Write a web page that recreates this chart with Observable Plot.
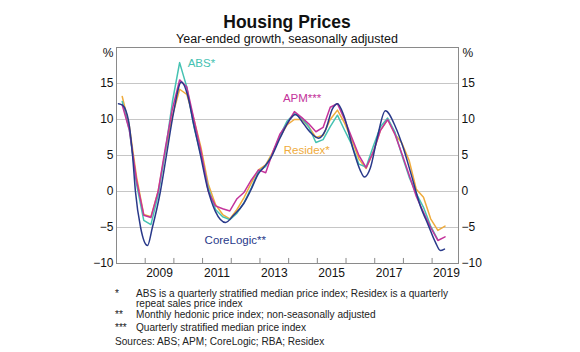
<!DOCTYPE html>
<html><head><meta charset="utf-8">
<script src="https://cdn.jsdelivr.net/npm/d3@7"></script>
<script src="https://cdn.jsdelivr.net/npm/@observablehq/plot@0.6"></script>
<style>
body{margin:0;background:#fff;font-family:Arial,"Liberation Sans",sans-serif;}
#wrap{position:relative;width:580px;height:352px;overflow:hidden;background:#fff;}
#chart{position:absolute;left:0;top:0;}
.t{position:absolute;white-space:nowrap;color:#111;}
.fn{font-size:10.1px;line-height:11px;color:#222;}
</style></head><body><div id="wrap"><div id="chart"></div>
<div class="t" style="left:0;width:574px;text-align:center;top:12px;font-size:17.5px;font-weight:bold;line-height:21px">Housing Prices</div>
<div class="t" style="left:0;width:574px;text-align:center;top:32px;font-size:12.5px;line-height:15px">Year-ended growth, seasonally adjusted</div>
<div class="t fn" style="left:115px;top:287.5px">*</div>
<div class="t fn" style="left:136px;top:287.5px">ABS is a quarterly stratified median price index; Residex is a quarterly</div>
<div class="t fn" style="left:136px;top:297.5px">repeat sales price index</div>
<div class="t fn" style="left:115px;top:308.5px">**</div>
<div class="t fn" style="left:136px;top:308.5px">Monthly hedonic price index; non-seasonally adjusted</div>
<div class="t fn" style="left:115px;top:321.5px">***</div>
<div class="t fn" style="left:136px;top:321.5px">Quarterly stratified median price index</div>
<div class="t fn" style="left:115px;top:335.5px">Sources: ABS; APM; CoreLogic; RBA; Residex</div>
</div>
<script>
// Quarterly observation times (decimal years)
const quarters = [2008.2, 2008.45, 2008.7, 2008.95, 2009.2, 2009.45, 2009.7, 2009.95,
  2010.2, 2010.45, 2010.7, 2010.95, 2011.2, 2011.45, 2011.7, 2011.95,
  2012.2, 2012.45, 2012.7, 2012.95, 2013.2, 2013.45, 2013.7, 2013.95,
  2014.2, 2014.45, 2014.7, 2014.95, 2015.2, 2015.45, 2015.7, 2015.95,
  2016.2, 2016.45, 2016.7, 2016.95, 2017.2, 2017.45, 2017.7, 2017.95,
  2018.2, 2018.45, 2018.7, 2018.95, 2019.2, 2019.45];

const absValues = [12.5, 8.5, 1.0, -4.0, -4.6, -0.5, 5.5, 12.5, 17.9, 14.5, 9.0, 5.0, 0.5, -2.5, -3.5, -3.9,
  -3.0, -1.5, 0.5, 2.8, 3.5, 5.3, 7.8, 9.8, 10.8, 10.2, 9.0, 6.8, 7.2, 9.0, 10.6, 8.5,
  6.5, 3.8, 3.4, 6.3, 9.0, 10.2, 8.3, 5.0, 2.0, -0.3, -2.2, -4.8, -6.7];

const apmValues = [12.0, 8.5, 1.5, -3.3, -3.6, 0.0, 6.0, 11.5, 15.5, 14.5, 10.0, 5.5, 0.0, -2.0, -2.4, -2.7,
  -1.0, -0.1, 1.6, 3.0, 2.6, 5.5, 8.0, 9.4, 11.1, 10.3, 9.4, 8.3, 8.9, 11.7, 12.2, 10.0,
  7.5, 5.0, 3.3, 5.5, 8.5, 10.0, 8.0, 5.2, 2.3, -0.7, -2.9, -5.0, -6.8, -6.3];

const residexValues = [13.2, 9.0, 2.0, -3.2, -3.5, 0.0, 5.5, 10.5, 14.2, 13.5, 10.0, 6.0, 1.0, -1.8, -3.2, -3.8,
  -2.5, -0.8, 1.2, 3.0, 3.7, 5.5, 7.6, 9.3, 10.0, 10.0, 9.0, 7.5, 7.8, 10.0, 11.3, 9.5,
  7.2, 4.5, 3.2, 5.5, 8.5, 10.0, 8.0, 6.7, 4.3, 0.3, -0.8, -3.8, -5.4, -4.8];

// CoreLogic (monthly, smooth) read at turning points
const coreLogicTimes = [2008.07, 2008.21, 2008.42, 2008.56, 2008.66, 2008.84, 2009.08, 2009.25, 2009.53, 2009.74,
  2009.99, 2010.26, 2010.47, 2010.68, 2010.93, 2011.17, 2011.45, 2011.8, 2012.08, 2012.43,
  2012.67, 2012.95, 2013.12, 2013.37, 2013.71, 2014.06, 2014.24, 2014.52, 2014.76, 2015.04,
  2015.28, 2015.53, 2015.7, 2015.92, 2016.26, 2016.5, 2016.64, 2016.85, 2017.09, 2017.37,
  2017.72, 2018.0, 2018.24, 2018.59, 2018.87, 2019.11, 2019.29, 2019.43];
const coreLogicValues = [12.2, 12.0, 9.8, 5.0, 0.0, -5.0, -7.5, -5.0, 0.0, 5.0,
  11.0, 15.2, 13.5, 9.5, 5.0, 0.5, -2.8, -4.3, -3.3, -1.7,
  0.1, 2.5, 3.3, 4.6, 7.5, 10.1, 10.7, 9.4, 8.2, 7.4,
  8.5, 11.5, 12.2, 10.6, 5.7, 2.9, 2.0, 3.3, 7.5, 11.2,
  9.0, 6.0, 2.8, -2.0, -4.7, -7.0, -8.2, -8.0];

const yTicks = [-10, -5, 0, 5, 10, 15];
const gridTicks = [-5, 0, 5, 10, 15];
const yearTicks = [2009, 2010, 2011, 2012, 2013, 2014, 2015, 2016, 2017, 2018, 2019];
const yearLabels = ["2009", "2011", "2013", "2015", "2017", "2019"];

const seriesNames = ["ABS*", "APM***", "Residex*", "CoreLogic**"];
const seriesColors = ["#45c2b2", "#c4339b", "#efab3c", "#29398a"];
const labelX = [2010.48, 2013.8, 2013.83, 2011.07];
const labelY = [17.8, 12.9, 5.7, -6.8];

const q = (vals) => vals.map((v, i) => ({t: quarters[i], v}));
const cl = coreLogicValues.map((v, i) => ({t: coreLogicTimes[i], v}));
const labels = seriesNames.map((n, i) => ({n, x: labelX[i], y: labelY[i], c: seriesColors[i]}));

const chart = Plot.plot({
  width: 580, height: 352,
  marginLeft: 116, marginRight: 122, marginTop: 47, marginBottom: 89,
  x: {domain: [2008, 2019.92]},
  y: {domain: [-10, 20]},
  style: {fontFamily: 'Arial, "Liberation Sans", sans-serif', fontSize: "12px", color: "#111", background: "transparent"},
  marks: [
    Plot.gridY(gridTicks, {stroke: "#c6c6c6", strokeOpacity: 1}),
    Plot.frame({stroke: "#8a8a8a"}),
    Plot.ruleX(yearTicks, {y1: -10, y2: -9.3, stroke: "#8a8a8a"}),
    Plot.axisY(yTicks, {anchor: "left", tickSize: 0, tickPadding: 3, fontSize: 12}),
    Plot.axisY(yTicks, {anchor: "right", tickSize: 0, tickPadding: 3, fontSize: 12}),
    Plot.axisX(yearLabels.map(s => +s + 0.5), {anchor: "bottom", tickSize: 0, tickPadding: 5, fontSize: 12, tickFormat: d => String(Math.floor(d))}),
    Plot.text(["%"], {frameAnchor: "top-left", dx: -3, dy: 6, textAnchor: "end", lineAnchor: "middle", fontSize: 12}),
    Plot.text(["%"], {frameAnchor: "top-right", dx: 4, dy: 6, textAnchor: "start", lineAnchor: "middle", fontSize: 12}),
    Plot.line(q(residexValues), {x: "t", y: "v", stroke: seriesColors[2], strokeWidth: 1.5}),
    Plot.line(q(absValues), {x: "t", y: "v", stroke: seriesColors[0], strokeWidth: 1.5}),
    Plot.line(q(apmValues), {x: "t", y: "v", stroke: seriesColors[1], strokeWidth: 1.5}),
    Plot.line(cl, {x: "t", y: "v", stroke: seriesColors[3], strokeWidth: 1.5, curve: "monotone-x"}),
    Plot.text(labels, {x: "x", y: "y", text: "n", fill: "c", textAnchor: "start", fontSize: 11.5})
  ]
});
document.getElementById("chart").appendChild(chart);
</script>
</body></html>
